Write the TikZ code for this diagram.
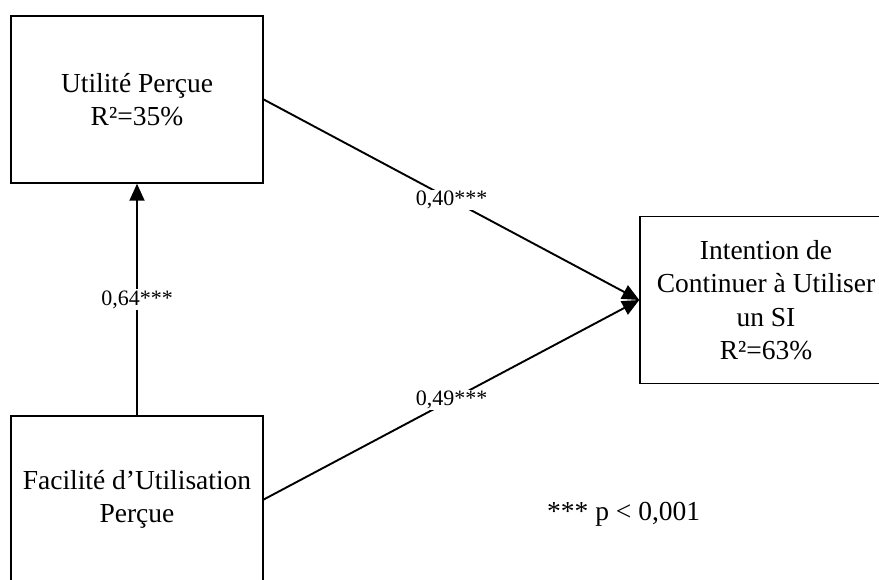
\documentclass[tikz,border=0pt]{standalone}
\usepackage{fontspec}
\setmainfont{Liberation Serif}
\usetikzlibrary{arrows.meta}
\begin{document}
\begin{tikzpicture}[x=1pt,y=-1pt,
  box/.style={draw=black,line width=1.5pt,minimum width=252pt,minimum height=167pt,
    align=center,inner sep=0pt,font=\fontsize{27.5}{33.5}\selectfont},
  arr/.style={line width=1.9pt,-{Triangle[length=17pt,width=15pt]}},
  lab/.style={fill=white,inner sep=1pt,font=\fontsize{22}{26}\selectfont}]
\useasboundingbox (0,0) rectangle (879,580);
\clip (0,0) rectangle (879,580);
\node[box] (pu) at (137,99.5) {Utilité Perçue\\R²=35\%};
\node[box] (ic) at (766,300) {Intention de\\Continuer à Utiliser\\un SI\\R²=63\%};
\node[box] (fu) at (137,499.5) {Facilité d’Utilisation\\Perçue};
\draw[arr] (pu.east) -- node[lab] {0,40***} (ic.west);
\draw[arr] (fu.east) -- node[lab] {0,49***} (ic.west);
\draw[arr] (fu.north) -- node[lab] {0,64***} (pu.south);
\node[anchor=base west,inner sep=0pt,font=\fontsize{27.5}{33}\selectfont] (note) at (547,520) {*** p < 0,001};
\end{tikzpicture}
\end{document}
